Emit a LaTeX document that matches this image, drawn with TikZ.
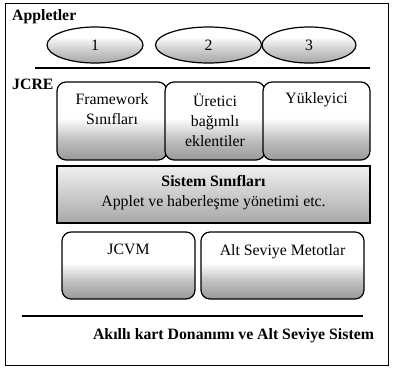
\documentclass[tikz,border=0pt]{standalone}
\usepackage{fontspec}
\setmainfont{Liberation Serif}
\usetikzlibrary{shapes.geometric}
\pgfdeclareverticalshading{boxsh}{100bp}{color(0bp)=(black!40); color(25bp)=(black!40); color(38bp)=(black!25); color(52bp)=(white); color(100bp)=(white)}
\pgfdeclareverticalshading{sissh}{100bp}{color(0bp)=(black!34); color(25bp)=(black!34); color(75bp)=(black!6); color(100bp)=(black!6)}
\pgfdeclareverticalshading{ovsh}{100bp}{color(0bp)=(black!35); color(25bp)=(black!35); color(45bp)=(black!18); color(62bp)=(white); color(100bp)=(white)}
\tikzset{
  rbox/.style={draw=black, line width=1.2pt, rounded corners=9pt, shading=boxsh},
  sbox/.style={draw=black, line width=1.2pt, shading=sissh},
  oval/.style={ellipse, draw=black, line width=1.2pt, shading=ovsh, minimum width=#1, minimum height=36pt, inner sep=0pt},
  txt/.style={font=\rmfamily\fontsize{15.8}{20}\selectfont, align=center},
  btxt/.style={font=\rmfamily\fontsize{15.8}{20}\selectfont\bfseries},
  sep/.style={line width=1.3pt}
}
\begin{document}
\begin{tikzpicture}[x=1pt,y=-1pt]
\useasboundingbox (0,0) rectangle (393,368);
\draw[line width=0.9pt] (5,3) rectangle (388,365);
% Appletler
\node[btxt, anchor=base west, inner sep=0pt] (app) at (12,20) {Appletler};
\node[oval=96pt] (o1) at (95,45) {\fontsize{15.8}{18}\selectfont 1};
\node[oval=106pt] (o2) at (208.5,45) {\fontsize{15.8}{18}\selectfont 2};
\node[oval=94pt] (o3) at (309,45) {\fontsize{15.8}{18}\selectfont 3};
\coordinate (l1a) at (35,68); \coordinate (l1b) at (370,68);
\draw[sep] (l1a) -- (l1b);
% JCRE
\node[btxt, anchor=base west, inner sep=0pt] (jcre) at (12,89) {JCRE};
\path[rbox] (57,82) rectangle (167,160);
\path[rbox] (165,82) rectangle (265,160);
\path[rbox] (263,82) rectangle (370,160);
\node[txt, anchor=north, inner sep=0pt] (fw) at (112,93) {Framework\\Sınıfları};
\node[txt, anchor=north, inner sep=0pt] (ur) at (215,93) {Üretici\\bağımlı\\eklentiler};
\node[txt, anchor=north, inner sep=0pt] (yk) at (316.5,92) {Yükleyici};
% Sistem
\path[sbox] (57,166) rectangle (370,223);
\node[txt, anchor=north, inner sep=0pt] (sis) at (213.5,175) {\bfseries Sistem Sınıfları\\Applet ve haberleşme yönetimi etc.};
% bottom boxes
\path[rbox] (62,232) rectangle (195,299);
\path[rbox] (201,232) rectangle (364,299);
\node[txt, anchor=north, inner sep=0pt] (jcvm) at (128.5,244) {JCVM};
\node[txt, anchor=north, inner sep=0pt] (asm) at (282.5,244) {Alt Seviye Metotlar};
\coordinate (l2a) at (22,316); \coordinate (l2b) at (363,316);
\draw[sep] (l2a) -- (l2b);
\node[btxt, anchor=base, inner sep=0pt] (hw) at (233.5,339) {Akıllı kart Donanımı ve Alt Seviye Sistem};
\end{tikzpicture}
\end{document}
